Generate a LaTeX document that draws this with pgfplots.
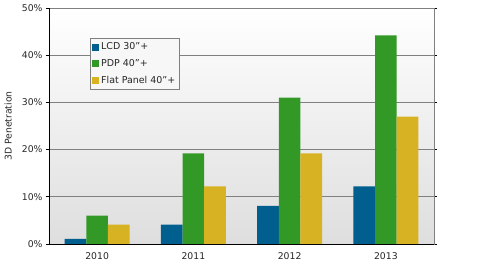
\documentclass[border=0pt]{standalone}
\usepackage{pgfplots}
\pgfplotsset{compat=1.18}
\usepackage{fontspec}
\setmainfont{DejaVu Sans}
\definecolor{lcd}{RGB}{0,95,143}
\definecolor{pdp}{RGB}{51,153,38}
\definecolor{flat}{RGB}{215,178,34}
\definecolor{gridg}{RGB}{128,128,128}
\begin{document}
\begin{tikzpicture}
\begin{axis}[
  at={(0,0)}, anchor=south west,
  scale only axis, width=385bp, height=236bp,
  ybar=0pt, bar width=21.7bp,
  xmin=-0.5, xmax=3.5, ymin=0, ymax=50,
  xtick={0,1,2,3}, xticklabels={2010,2011,2012,2013},
  major x tick style={draw=none},
  extra x ticks={0.5,1.5,2.5},
  extra x tick labels={},
  extra x tick style={major tick length=3bp, tick style={draw=black, line width=0.8bp}, tick align=outside, grid=none},
  ytick={0,10,20,30,40,50},
  yticklabel={\pgfmathprintnumber{\tick}\%},
  /pgf/number format/assume math mode=true,
  ymajorgrids, grid style={draw=gridg, line width=0.8bp},
  tick align=outside, major tick length=3bp,
  y tick style={draw=black, line width=0.8bp},
  ticklabel style={font=\fontsize{9.3}{11}\selectfont, text=black!85},
  xticklabel style={yshift=-2bp},
  ylabel={3D Penetration},
  ylabel style={font=\fontsize{9.3}{11}\selectfont, text=black!85, at={(axis description cs:-0.106,0.5)}, anchor=center},
  axis line style={draw=gridg, line width=0.8bp},
  axis background/.style={top color=white, bottom color={rgb,255:red,222;green,222;blue,222}},
  clip=false,
  legend style={at={(0.106,0.873)}, anchor=north west, draw=gridg, line width=0.8bp, fill={rgb,255:red,247;green,247;blue,247},
    font=\fontsize{9.5}{11}\selectfont, text=black!85, row sep=4bp, inner xsep=2bp, inner ysep=2.5bp},
  legend cell align=left,
  legend image code/.code={\fill[#1] (0bp,-3.5bp) rectangle (7bp,3.5bp);},
  every axis plot/.append style={draw=none},
]
\addplot[fill=lcd] coordinates {(0,1.1) (1,4.1) (2,8.1) (3,12.2)};
\addplot[fill=pdp] coordinates {(0,6.0) (1,19.2) (2,31) (3,44.2)};
\addplot[fill=flat] coordinates {(0,4.1) (1,12.2) (2,19.2) (3,27)};
\legend{LCD 30"+, PDP 40"+, Flat Panel 40"+}
\draw[black, line width=0.8bp] (rel axis cs:0,1) -- (rel axis cs:0,0) -- (rel axis cs:1,0);
\end{axis}
\useasboundingbox (-49bp,-19bp) rectangle (440bp,244bp);
\end{tikzpicture}
\end{document}
